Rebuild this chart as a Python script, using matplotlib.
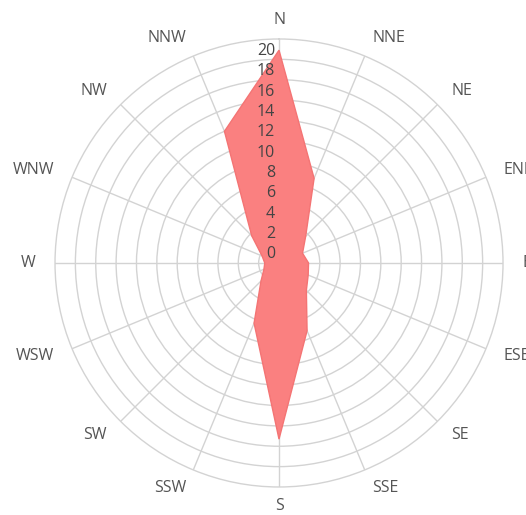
import numpy as np
import matplotlib
matplotlib.use('Agg')
import matplotlib.pyplot as plt
from matplotlib.transforms import ScaledTranslation

# wind directions, clockwise from north
directions = ['N', 'NNE', 'NE', 'ENE', 'E', 'ESE', 'SE', 'SSE',
              'S', 'SSW', 'SW', 'WSW', 'W', 'WNW', 'NW', 'NNW']
# values
values = [20.9, 9.0, 3.7, 2.5, 2.9, 3.1, 3.8, 7.2,
          17.3, 6.4, 2.5, 1.6, 1.4, 1.8, 3.8, 14.0]
tick_values = list(range(0, 21, 2))

plt.rcParams['font.family'] = ['Open Sans', 'DejaVu Sans']

fig = plt.figure(figsize=(5.26, 5.15), dpi=100)
ax = fig.add_axes([0.1046, 0.0544, 0.8517, 0.8699], projection='polar')
ax.set_theta_zero_location('N')
ax.set_theta_direction(-1)
ax.set_ylim(0, 22)

angles = np.deg2rad(np.arange(len(directions)) * 22.5)
ax.set_xticks(angles)
ax.set_xticklabels([])
ax.set_yticks(np.arange(2, 22, 2))
ax.set_yticklabels([])
ax.grid(color='#d3d3d3', linewidth=1)
ax.spines['polar'].set_color('#d3d3d3')
ax.spines['polar'].set_linewidth(1)

th = np.append(angles, angles[0])
vals = np.append(values, values[0])
ax.fill(th, vals, facecolor='#fa8080', edgecolor='#f47474', linewidth=1, zorder=2)

# radial labels sit left of the north axis, a little above each ring
offset = ScaledTranslation(-4 / 100, 8.5 / 100, fig.dpi_scale_trans)
for v in tick_values:
    ax.text(0, v, str(v), transform=ax.transData + offset, ha='right', va='center',
            fontsize=11.5, color='#444444', zorder=5)

# direction labels around the outside
for a, name in zip(angles, directions):
    s = np.sin(a)
    if s > 0.01:
        ha = 'left'
    elif s < -0.01:
        ha = 'right'
    else:
        ha = 'center'
    ax.text(a, 23.9, name, ha=ha, va='center', fontsize=11.5, color='#555555')

fig.savefig('out.png', dpi=100)
